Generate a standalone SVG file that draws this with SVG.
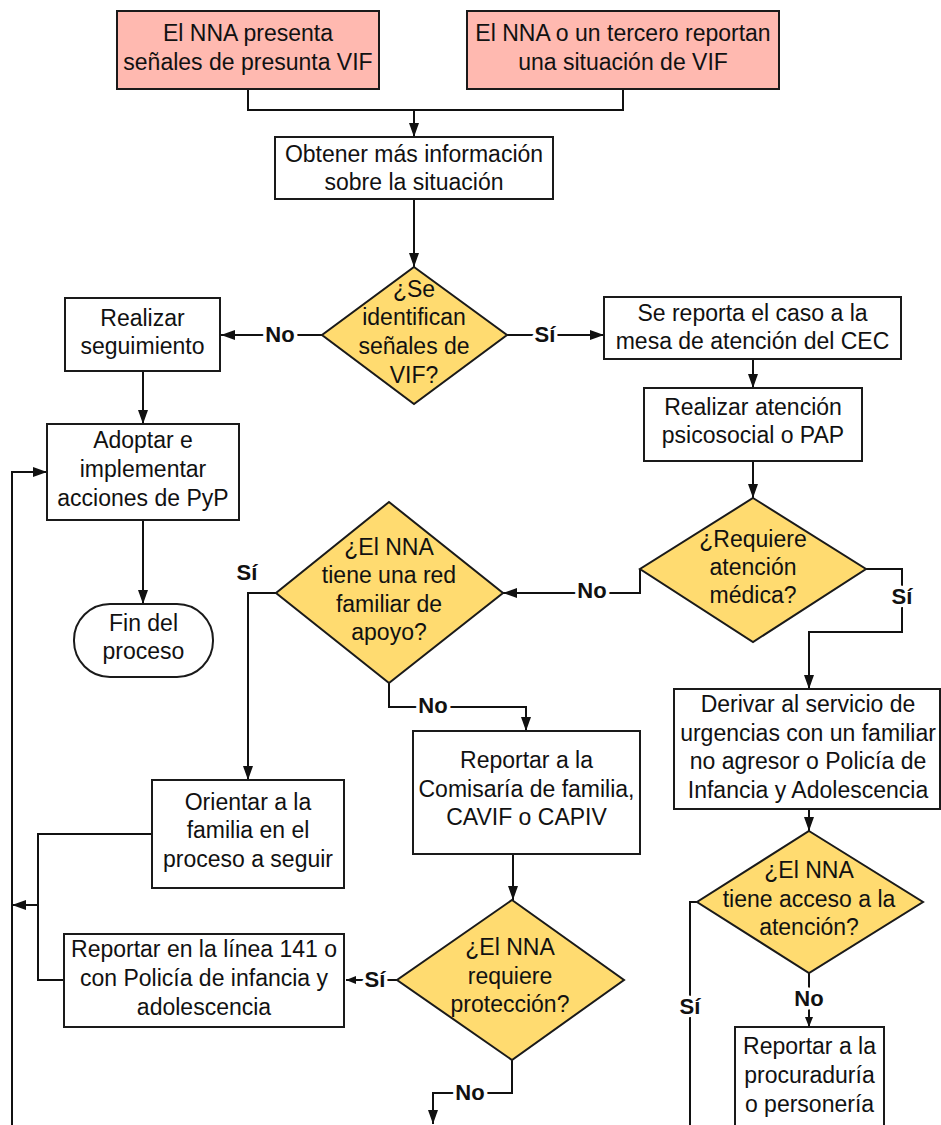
<svg xmlns="http://www.w3.org/2000/svg" width="941" height="1125" viewBox="0 0 941 1125">
  <style>
    .box { fill: #ffffff; stroke: #1a1a1a; stroke-width: 2; }
    .start { fill: #ffb9b0; stroke: #1a1a1a; stroke-width: 2; }
    .dec { fill: #ffdb70; stroke: #1a1a1a; stroke-width: 2; }
    .t { font-family: "Liberation Sans", Arial, sans-serif; font-size: 23px; fill: #111; text-anchor: middle; }
    .wire { fill: none; stroke: #111; stroke-width: 2; }
    .arr { marker-end: url(#head); }
    .arrs { marker-end: url(#headSmall); }
    .lbl { font-family: "Liberation Sans", Arial, sans-serif; font-size: 22px; font-weight: bold; fill: #111; text-anchor: middle; stroke: #ffffff; stroke-width: 7; paint-order: stroke; stroke-linejoin: round; }
  </style>
  <defs>
    <marker id="head" viewBox="0 0 14 10" markerWidth="14" markerHeight="10" refX="14" refY="5" markerUnits="userSpaceOnUse" orient="auto">
      <path d="M0,0 L14,5 L0,10 z" fill="#111"/>
    </marker>
    <marker id="headSmall" viewBox="0 0 10 8" markerWidth="10" markerHeight="8" refX="10" refY="4" markerUnits="userSpaceOnUse" orient="auto">
      <path d="M0,0 L10,4 L0,8 z" fill="#111"/>
    </marker>
  </defs>

  <!-- connectors -->
  <g id="connectors">
    <path class="wire" d="M248,89 V110 H623 V89"/>
    <path class="wire arr" d="M414,110 V137"/>
    <path class="wire arr" d="M414,199 V267"/>
    <path class="wire arr" d="M322,335 H221"/>
    <path class="wire arr" d="M143,371 V424"/>
    <path class="wire arr" d="M143,520 V604"/>
    <path class="wire arr" d="M12,1125 V472 H47"/>
    <path class="wire arr" d="M507,335 H604"/>
    <path class="wire arr" d="M753,359 V388"/>
    <path class="wire arr" d="M753,461 V498"/>
    <path class="wire arr" d="M640,569 V593 H503"/>
    <path class="wire arr" d="M866,569 H902 V632 H809 V689"/>
    <path class="wire arr" d="M809,809 V831"/>
    <path class="wire arrs" d="M809,973 V1027"/>
    <path class="wire" d="M697,902 H690 V1125"/>
    <path class="wire arr" d="M276,593 H248 V780"/>
    <path class="wire arr" d="M389,683 V707 H526 V731"/>
    <path class="wire arr" d="M513,854 V900"/>
    <path class="wire arrs" d="M397,980 H346"/>
    <path class="wire arr" d="M512,1060 V1093 H433 V1124"/>
    <path class="wire" d="M152,834 H38 V980 H64"/>
    <path class="wire arr" d="M38,905 H12"/>

    <text class="lbl" x="280" y="342">No</text>
    <text class="lbl" x="545" y="342">Sí</text>
    <text class="lbl" x="592" y="598">No</text>
    <text class="lbl" x="902" y="604">Sí</text>
    <text class="lbl" x="809" y="1006">No</text>
    <text class="lbl" x="690" y="1014">Sí</text>
    <text class="lbl" x="247" y="580">Sí</text>
    <text class="lbl" x="433" y="713">No</text>
    <text class="lbl" x="375" y="987">Sí</text>
    <text class="lbl" x="470" y="1100">No</text>
  </g>

  <g id="n-senales">
    <rect class="start" x="117" y="11" width="262" height="78"/>
    <text class="t" x="248" y="41">El NNA presenta</text>
    <text class="t" x="248" y="70">señales de presunta VIF</text>
  </g>

  <g id="n-reporte">
    <rect class="start" x="467" y="11" width="312" height="78"/>
    <text class="t" x="623" y="41">El NNA o un tercero reportan</text>
    <text class="t" x="623" y="70">una situación de VIF</text>
  </g>

  <g id="n-obtener">
    <rect class="box" x="275" y="137" width="278" height="62"/>
    <text class="t" x="414" y="162">Obtener más información</text>
    <text class="t" x="414" y="190">sobre la situación</text>
  </g>

  <g id="d-senales">
    <polygon class="dec" points="414,267 507,335 414,404 322,335"/>
    <text class="t" x="414" y="297">¿Se</text>
    <text class="t" x="414" y="325">identifican</text>
    <text class="t" x="414" y="354">señales de</text>
    <text class="t" x="414" y="383">VIF?</text>
  </g>

  <g id="n-seguimiento">
    <rect class="box" x="65" y="298" width="155" height="73"/>
    <text class="t" x="142.5" y="326">Realizar</text>
    <text class="t" x="142.5" y="354">seguimiento</text>
  </g>

  <g id="n-adoptar">
    <rect class="box" x="47" y="424" width="192" height="96"/>
    <text class="t" x="143" y="448">Adoptar e</text>
    <text class="t" x="143" y="477">implementar</text>
    <text class="t" x="143" y="506">acciones de PyP</text>
  </g>

  <g id="n-fin">
    <rect class="box" x="74" y="604" width="139" height="73" rx="36" ry="36"/>
    <text class="t" x="143.5" y="631">Fin del</text>
    <text class="t" x="143.5" y="659">proceso</text>
  </g>

  <g id="n-cec">
    <rect class="box" x="604" y="297" width="297" height="62"/>
    <text class="t" x="752.5" y="321">Se reporta el caso a la</text>
    <text class="t" x="752.5" y="349">mesa de atención del CEC</text>
  </g>

  <g id="n-psicosocial">
    <rect class="box" x="644" y="388" width="218" height="73"/>
    <text class="t" x="753" y="415">Realizar atención</text>
    <text class="t" x="753" y="443">psicosocial o PAP</text>
  </g>

  <g id="d-medica">
    <polygon class="dec" points="753,498 866,569 753,642 640,569"/>
    <text class="t" x="753" y="547">¿Requiere</text>
    <text class="t" x="753" y="575">atención</text>
    <text class="t" x="753" y="603">médica?</text>
  </g>

  <g id="d-red">
    <polygon class="dec" points="389,502 503,593 389,683 276,593"/>
    <text class="t" x="389" y="555">¿El NNA</text>
    <text class="t" x="389" y="583">tiene una red</text>
    <text class="t" x="389" y="612">familiar de</text>
    <text class="t" x="389" y="640">apoyo?</text>
  </g>

  <g id="n-derivar">
    <rect class="box" x="674" y="689" width="266" height="120"/>
    <text class="t" x="808" y="712">Derivar al servicio de</text>
    <text class="t" x="808" y="741">urgencias con un familiar</text>
    <text class="t" x="808" y="769">no agresor o Policía de</text>
    <text class="t" x="808" y="798">Infancia y Adolescencia</text>
  </g>

  <g id="d-acceso">
    <polygon class="dec" points="809,831 923,902 809,973 697,902"/>
    <text class="t" x="809" y="878">¿El NNA</text>
    <text class="t" x="809" y="907">tiene acceso a la</text>
    <text class="t" x="809" y="935">atención?</text>
  </g>

  <g id="n-procuraduria">
    <rect class="box" x="735" y="1027" width="149" height="110"/>
    <text class="t" x="809.5" y="1054">Reportar a la</text>
    <text class="t" x="809.5" y="1083">procuraduría</text>
    <text class="t" x="809.5" y="1112">o personería</text>
  </g>

  <g id="n-comisaria">
    <rect class="box" x="413" y="731" width="227" height="123"/>
    <text class="t" x="526.5" y="768">Reportar a la</text>
    <text class="t" x="526.5" y="797">Comisaría de familia,</text>
    <text class="t" x="526.5" y="825">CAVIF o CAPIV</text>
  </g>

  <g id="d-proteccion">
    <polygon class="dec" points="512,900 624,980 512,1060 397,980"/>
    <text class="t" x="510" y="955">¿El NNA</text>
    <text class="t" x="510" y="984">requiere</text>
    <text class="t" x="510" y="1012">protección?</text>
  </g>

  <g id="n-orientar">
    <rect class="box" x="152" y="780" width="192" height="108"/>
    <text class="t" x="248" y="810">Orientar a la</text>
    <text class="t" x="248" y="838">familia en el</text>
    <text class="t" x="248" y="867">proceso a seguir</text>
  </g>

  <g id="n-linea141">
    <rect class="box" x="64" y="934" width="280" height="93"/>
    <text class="t" x="204" y="957">Reportar en la línea 141 o</text>
    <text class="t" x="204" y="986">con Policía de infancia y</text>
    <text class="t" x="204" y="1015">adolescencia</text>
  </g>
</svg>
